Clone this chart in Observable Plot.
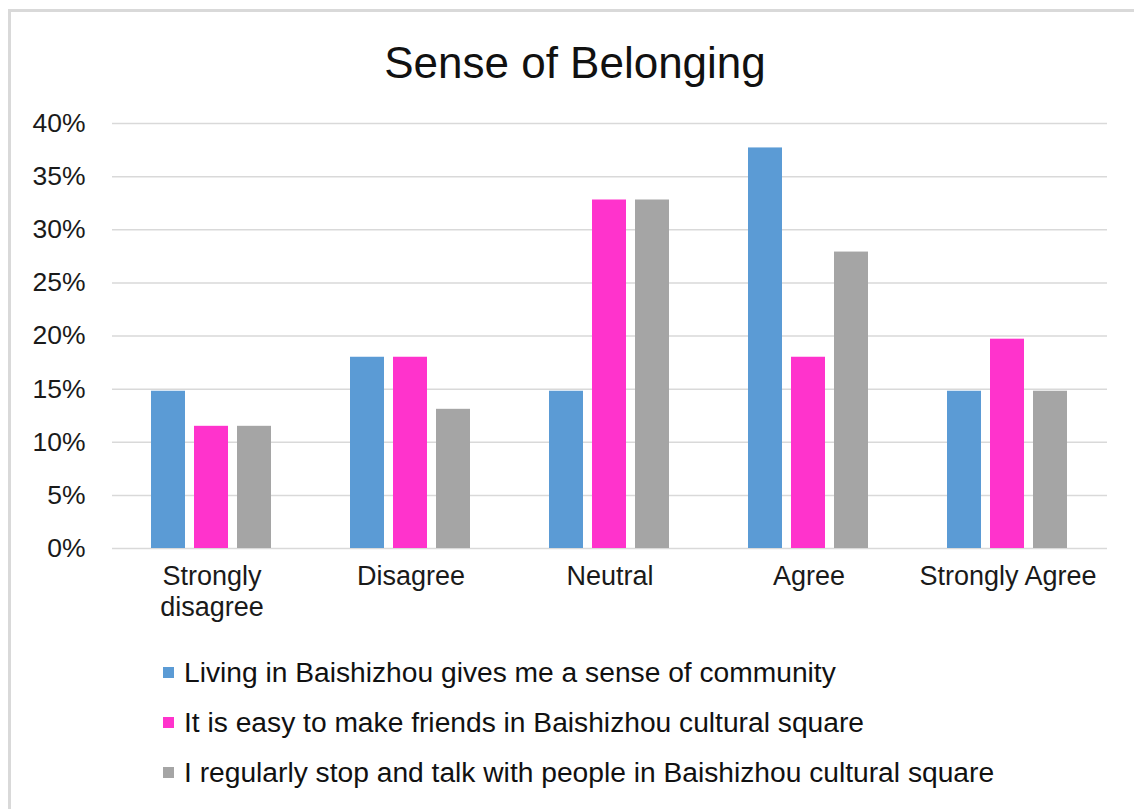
<!DOCTYPE html>
<html>
<head>
<meta charset="utf-8">
<script src="https://cdn.jsdelivr.net/npm/d3@7"></script>
<script src="https://cdn.jsdelivr.net/npm/@observablehq/plot@0.6"></script>
<style>
  html, body { margin: 0; padding: 0; background: #fff; }
  body { width: 1134px; height: 809px; position: relative; overflow: hidden;
         font-family: "Liberation Sans", Arial, sans-serif; color: #1a1a1a; }
  #frame { position: absolute; left: 8px; top: 9px; width: 1200px; height: 900px;
           border-left: 3px solid #d9d9d9; border-top: 3px solid #d9d9d9; box-sizing: border-box; }
  #title { position: absolute; left: 0; width: 1150px; top: 41px; text-align: center;
           font-size: 44px; line-height: 1; color: #111; }
  #chart { position: absolute; left: 0; top: 100px; }
  #legend { position: absolute; left: 163px; top: 647px; }
  .row { height: 50px; line-height: 50px; font-size: 28.2px; white-space: nowrap; color: #111; }
  .sw { display: inline-block; width: 11px; height: 11px; margin-right: 10px; vertical-align: middle; position: relative; top: -2px; }
</style>
</head>
<body>
<div id="frame"></div>
<div id="title">Sense of Belonging</div>
<div id="chart"></div>
<div id="legend"></div>
<script>
const categories = ["Strongly disagree", "Disagree", "Neutral", "Agree", "Strongly Agree"];
const categoryLabels = ["Strongly\ndisagree", "Disagree", "Neutral", "Agree", "Strongly Agree"];
const seriesNames = [
  "Living in Baishizhou gives me a sense of community",
  "It is easy to make friends in Baishizhou cultural square",
  "I regularly stop and talk with people in Baishizhou cultural square"
];
const seriesColors = ["#5B9BD5", "#FF33CC", "#A5A5A5"];
const community = [14.8, 18.0, 14.8, 37.7, 14.8];
const friends   = [11.5, 18.0, 32.8, 18.0, 19.7];
const talk      = [11.5, 13.1, 32.8, 27.9, 14.8];
const yTicks = [0, 5, 10, 15, 20, 25, 30, 35, 40];

const seriesValues = [community, friends, talk];
const data = [];
categories.forEach((c, i) => {
  seriesNames.forEach((s, j) => data.push({category: c, series: s, value: seriesValues[j][i]}));
});
const labelOf = new Map(categories.map((c, i) => [c, categoryLabels[i]]));

const chart = Plot.plot({
  width: 1134,
  height: 530,
  marginLeft: 110,
  marginRight: 26,
  marginTop: 23,
  marginBottom: 82,
  style: {fontFamily: "'Liberation Sans', Arial, sans-serif", color: "#1a1a1a", background: "transparent"},
  fx: {domain: categories, paddingInner: 0, paddingOuter: 0},
  x: {domain: seriesNames, paddingInner: 0.2, paddingOuter: 0.87, axis: null},
  y: {domain: [0, 40]},
  color: {domain: seriesNames, range: seriesColors},
  marks: [
    Plot.ruleY(yTicks, {stroke: "#d9d9d9", strokeWidth: 1.5, strokeOpacity: 1}),
    Plot.barY(data, {fx: "category", x: "series", y: "value", fill: "series"}),
    Plot.axisY({ticks: yTicks, tickSize: 0, tickPadding: 27, fontSize: 26.5, tickFormat: d => d + "%", label: null}),
    Plot.axisFx({anchor: "bottom", tickSize: 0, tickPadding: 14, fontSize: 27, lineHeight: 1.15, tickFormat: d => labelOf.get(d), label: null})
  ]
});
document.getElementById("chart").appendChild(chart);

const legend = document.getElementById("legend");
seriesNames.forEach((s, j) => {
  const row = document.createElement("div");
  row.className = "row";
  const sw = document.createElement("span");
  sw.className = "sw";
  sw.style.background = seriesColors[j];
  row.appendChild(sw);
  row.appendChild(document.createTextNode(s));
  legend.appendChild(row);
});
</script>
</body>
</html>
